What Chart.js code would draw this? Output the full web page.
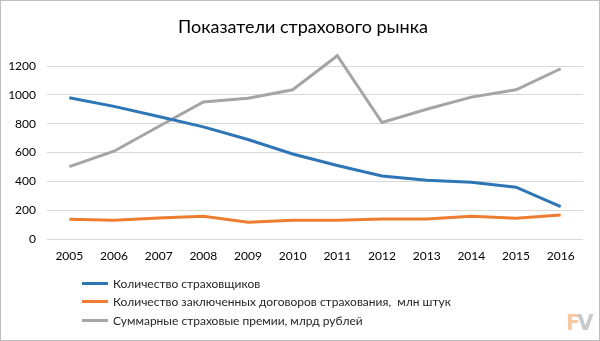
<!DOCTYPE html>
<html>
<head>
<meta charset="utf-8">
<script src="https://cdn.jsdelivr.net/npm/chart.js@4/dist/chart.umd.min.js"></script>
<style>
  html, body { margin: 0; padding: 0; background: #fff; }
  #wrap { position: relative; width: 600px; height: 341px; box-sizing: border-box; overflow: hidden; }
  #frame { position: absolute; left: 0; top: 0; width: 598px; height: 339px; border: 1px solid #bfbfbf; pointer-events: none; }
  canvas { position: absolute; left: 0; top: 0; }
  #title { position: absolute; left: 0; width: 606px; top: 15px; text-align: center; font-family: Lato, "Open Sans", sans-serif; font-size: 18px; color: #000; line-height: 22px; }
  #legend { position: absolute; left: 82px; top: 274px; font-family: Lato, "Open Sans", sans-serif; font-size: 12px; color: #262626; }
  .item { height: 18.5px; display: flex; align-items: center; white-space: pre; }
  .sw { width: 26px; height: 3px; margin-right: 5px; }
  #logo { position: absolute; left: 566px; top: 311px; font-family: "DejaVu Sans", sans-serif; font-weight: bold; font-size: 21px; letter-spacing: -3px; }
</style>
</head>
<body>
<div id="wrap">
  <canvas id="c" width="600" height="341"></canvas>
  <div id="title"></div>
  <div id="legend"></div>
  <div id="logo"><span style="color:#f9c9a6">F</span><span style="color:#c9c9c9">V</span></div>
  <div id="frame"></div>
</div>
<script>
const chartTitle = 'Показатели страхового рынка';
const years = ['2005','2006','2007','2008','2009','2010','2011','2012','2013','2014','2015','2016'];
const insurers = [980, 920, 850, 778, 690, 590, 510, 437, 407, 394, 359, 224];
const contracts = [137, 130, 145, 158, 116, 130, 130, 139, 139, 158, 144, 167];
const premiums = [502, 609, 780, 950, 977, 1035, 1271, 808, 900, 984, 1035, 1181];
const seriesNames = ['Количество страховщиков', 'Количество заключенных договоров страхования,  млн штук', 'Суммарные страховые премии, млрд рублей'];
const colors = ['#2E75B6', '#ED7D31', '#A5A5A5'];
const yTicks = [0, 200, 400, 600, 800, 1000, 1200];

const font = "Lato, 'Open Sans', sans-serif";
const values = [insurers, contracts, premiums];

document.getElementById('title').textContent = chartTitle;
const legend = document.getElementById('legend');
seriesNames.forEach((n, i) => {
  const d = document.createElement('div');
  d.className = 'item';
  const sw = document.createElement('div');
  sw.className = 'sw';
  sw.style.background = colors[i];
  const sp = document.createElement('span');
  sp.textContent = n;
  d.appendChild(sw); d.appendChild(sp);
  legend.appendChild(d);
});

new Chart(document.getElementById('c'), {
  type: 'line',
  data: {
    labels: years,
    datasets: values.map((v, i) => ({
      label: seriesNames[i],
      data: v,
      borderColor: colors[i],
      backgroundColor: colors[i],
      borderWidth: 3,
      pointRadius: 0,
      tension: 0,
      clip: false
    }))
  },
  options: {
    responsive: false,
    animation: false,
    layout: { padding: { left: 0, right: 17, top: 66, bottom: 72 } },
    plugins: {
      legend: { display: false },
      tooltip: { enabled: false },
      title: { display: false }
    },
    scales: {
      x: {
        offset: true,
        grid: { display: false, drawTicks: false },
        border: { display: false },
        ticks: { color: '#000', font: { family: font, size: 12 }, padding: 10, maxRotation: 0 },
        afterFit: s => { s.height = 30; }
      },
      y: {
        min: 0, max: 1200,
        afterBuildTicks: s => { s.ticks = yTicks.map(v => ({ value: v })); },
        grid: { color: '#d9d9d9', drawTicks: false, lineWidth: 1 },
        border: { display: false },
        ticks: { color: '#000', font: { family: font, size: 12 }, padding: 11, callback: v => String(v) },
        afterFit: s => { s.width = 47; }
      }
    }
  }
});
</script>
</body>
</html>
